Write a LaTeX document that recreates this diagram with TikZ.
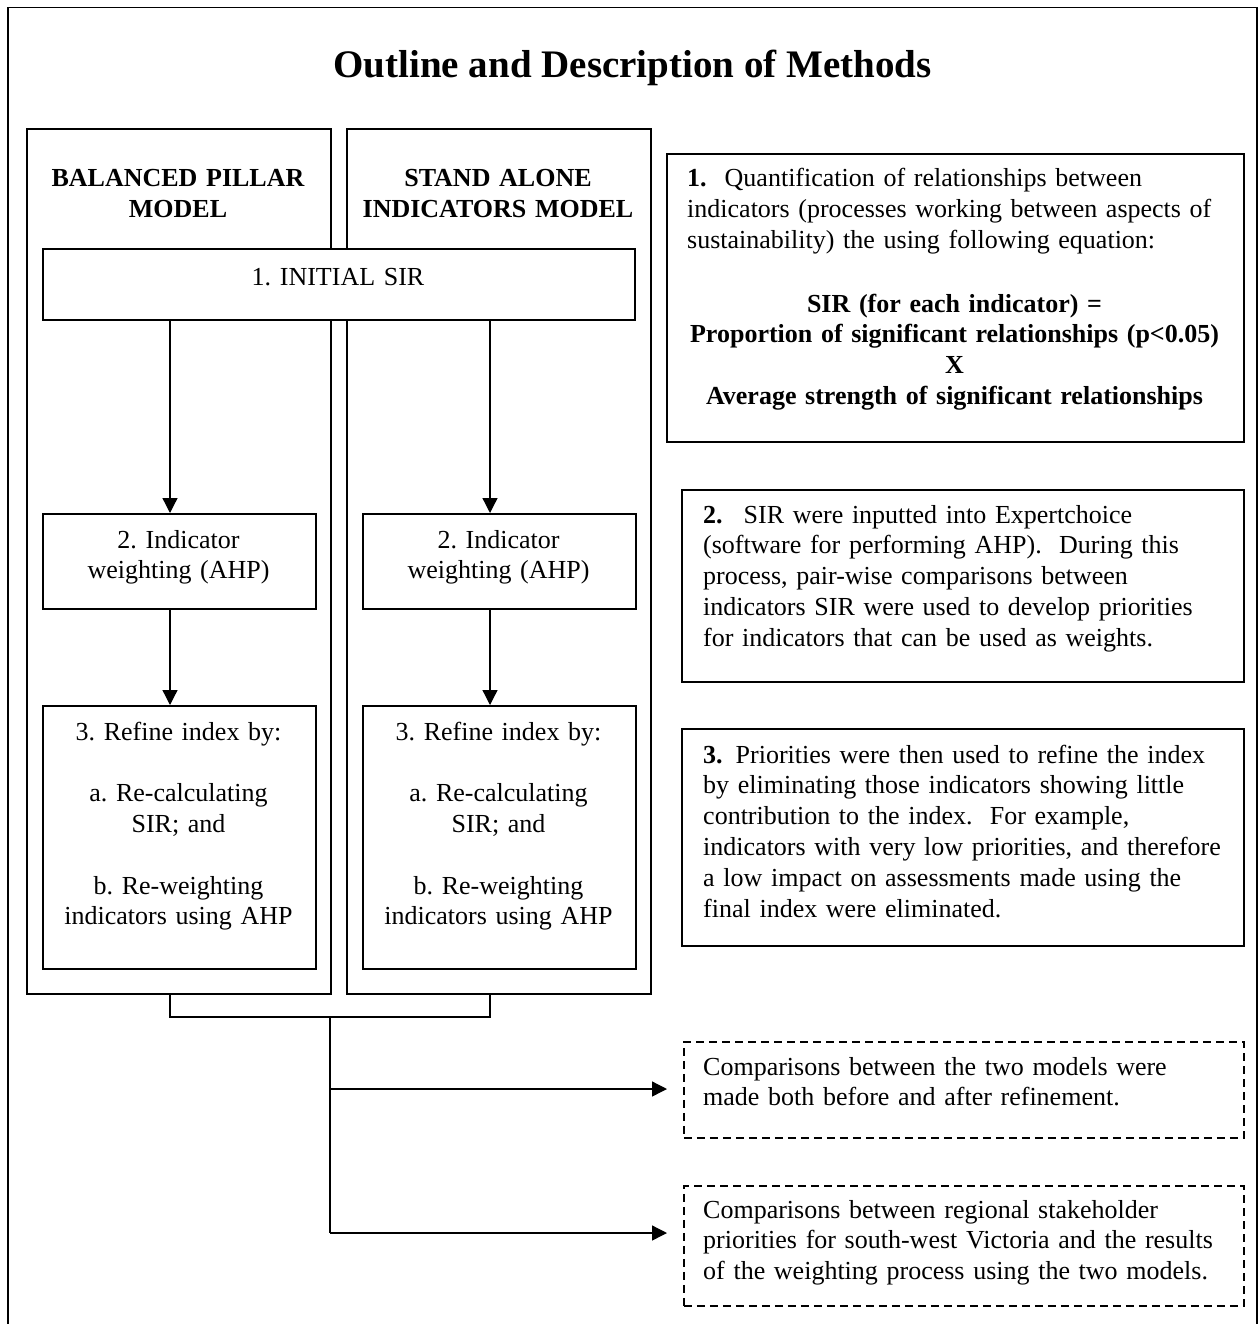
\documentclass[tikz,border=0pt]{standalone}
\usepackage{fontspec}
\setmainfont{Liberation Serif}
\usetikzlibrary{arrows.meta,calc}
\newcommand{\mkbox}[6]{\node[#6, minimum width={(#4)-(#2)}, minimum height={(#5)-(#3)}, anchor=north west] (#1) at (#2,#3) {};}
\frenchspacing
\hyphenpenalty=10000
\begin{document}
\begin{tikzpicture}[x=1pt,y=-1pt,
  boxline/.style={draw, line width=1.8pt, inner sep=0pt, fill=white},
  dbox/.style={draw, line width=1.6pt, dash pattern=on 8pt off 5pt, inner sep=0pt},
  conn/.style={line width=1.3pt},
  arr/.style={conn, -{Triangle[length=15pt,width=15pt]}},
  txt/.style={inner sep=0pt, anchor=base, font=\fontsize{26}{30.8}\selectfont},
  btxt/.style={txt, font=\fontsize{26}{30.8}\selectfont\bfseries},
  ctxt/.style={txt, align=center},
  ltxt/.style={txt, align=left, anchor=base west},
]
\useasboundingbox (0,0) rectangle (1259,1324);
\fill[white] (0,0) rectangle (1259,1324);
% outer frame
\draw[line width=1.8pt] (8,1330) -- (8,7.5) -- (1257,7.5) -- (1257,1330);

\node[txt, font=\fontsize{39}{44}\selectfont\bfseries] (title) at (632.5,78) {Outline and Description of Methods};

% pillars
\mkbox{pL}{26}{128}{330}{993}{boxline}
\mkbox{pR}{346}{128}{650}{993}{boxline}
\node[btxt, align=center, text width=304pt] (hL) at (178,187) {BALANCED PILLAR\\MODEL};
\node[btxt, align=center, text width=304pt] (hR) at (498,187) {STAND ALONE\\INDICATORS MODEL};

\mkbox{init}{42}{248}{634}{319}{boxline}
\node[ctxt, text width=592pt] (tinit) at (338,285) {1. INITIAL SIR};

\mkbox{b2L}{42}{513}{315}{608}{boxline}
\mkbox{b2R}{362}{513}{635}{608}{boxline}
\node[ctxt, text width=273pt] (t2L) at (178.5,548) {2. Indicator\\weighting (AHP)};
\node[ctxt, text width=273pt] (t2R) at (498.5,548) {2. Indicator\\weighting (AHP)};

\mkbox{b3L}{42}{705}{315}{968}{boxline}
\mkbox{b3R}{362}{705}{635}{968}{boxline}
\node[ctxt, text width=273pt] (t3L) at (178.5,740) {3. Refine index by:\\[30.8pt]a. Re-calculating\\SIR; and\\[30.8pt]b. Re-weighting\\indicators using AHP};
\node[ctxt, text width=273pt] (t3R) at (498.5,740) {3. Refine index by:\\[30.8pt]a. Re-calculating\\SIR; and\\[30.8pt]b. Re-weighting\\indicators using AHP};

% right column boxes
\mkbox{bA}{666}{153}{1243}{441}{boxline}
\node[ltxt, text width=560pt] (tA) at (687,187) {\textbf{1.}\hspace{18pt}Quantification of relationships between\\indicators (processes working between aspects of\\sustainability) the using following equation:};
\node[btxt, align=center, text width=577pt] (eqA) at (954.5,312) {SIR (for each indicator) =\\Proportion of significant relationships (p<0.05)\\X\\Average strength of significant relationships};

\mkbox{bB}{681}{489}{1243}{681}{boxline}
\node[ltxt, text width=560pt] (tB) at (703,523) {\textbf{2.}\hspace{21pt}SIR were inputted into Expertchoice\\(software for performing AHP).\ \ During this\\process, pair-wise comparisons between\\indicators SIR were used to develop priorities\\for indicators that can be used as weights.};

\mkbox{bC}{681}{728}{1243}{945}{boxline}
\node[ltxt, text width=560pt] (tC) at (703,763) {\textbf{3.}\hspace{13pt}Priorities were then used to refine the index\\by eliminating those indicators showing little\\contribution to the index.\ \ For example,\\indicators with very low priorities, and therefore\\a low impact on assessments made using the\\final index were eliminated.};

\mkbox{d1}{683}{1041}{1243}{1137}{dbox}
\node[ltxt, text width=560pt] (td1) at (703,1075) {Comparisons between the two models were\\made both before and after refinement.};
\mkbox{d2}{683}{1185}{1243}{1305}{dbox}
\node[ltxt, text width=560pt] (td2) at (703,1218) {Comparisons between regional stakeholder\\priorities for south-west Victoria and the results\\of the weighting process using the two models.};

% connectors
\coordinate (axL) at (170,0);
\coordinate (axR) at (490,0);
\coordinate (join) at (330,1017);
\coordinate (br1) at (330,1089);
\coordinate (br2) at (330,1233);
\draw[arr] (init.south -| axL) -- (b2L.north -| axL);
\draw[arr] (init.south -| axR) -- (b2R.north -| axR);
\draw[arr] (b2L.south -| axL) -- (b3L.north -| axL);
\draw[arr] (b2R.south -| axR) -- (b3R.north -| axR);
\draw[conn] (pL.south -| axL) -- (axL |- join) -- (axR |- join) -- (pR.south -| axR);
\draw[conn] (join) -- (br2);
\draw[arr] (br1) -- ($(br1 -| d1.west)+(-16,0)$);
\draw[arr] (br2) -- ($(br2 -| d2.west)+(-16,0)$);
\end{tikzpicture}
\end{document}
